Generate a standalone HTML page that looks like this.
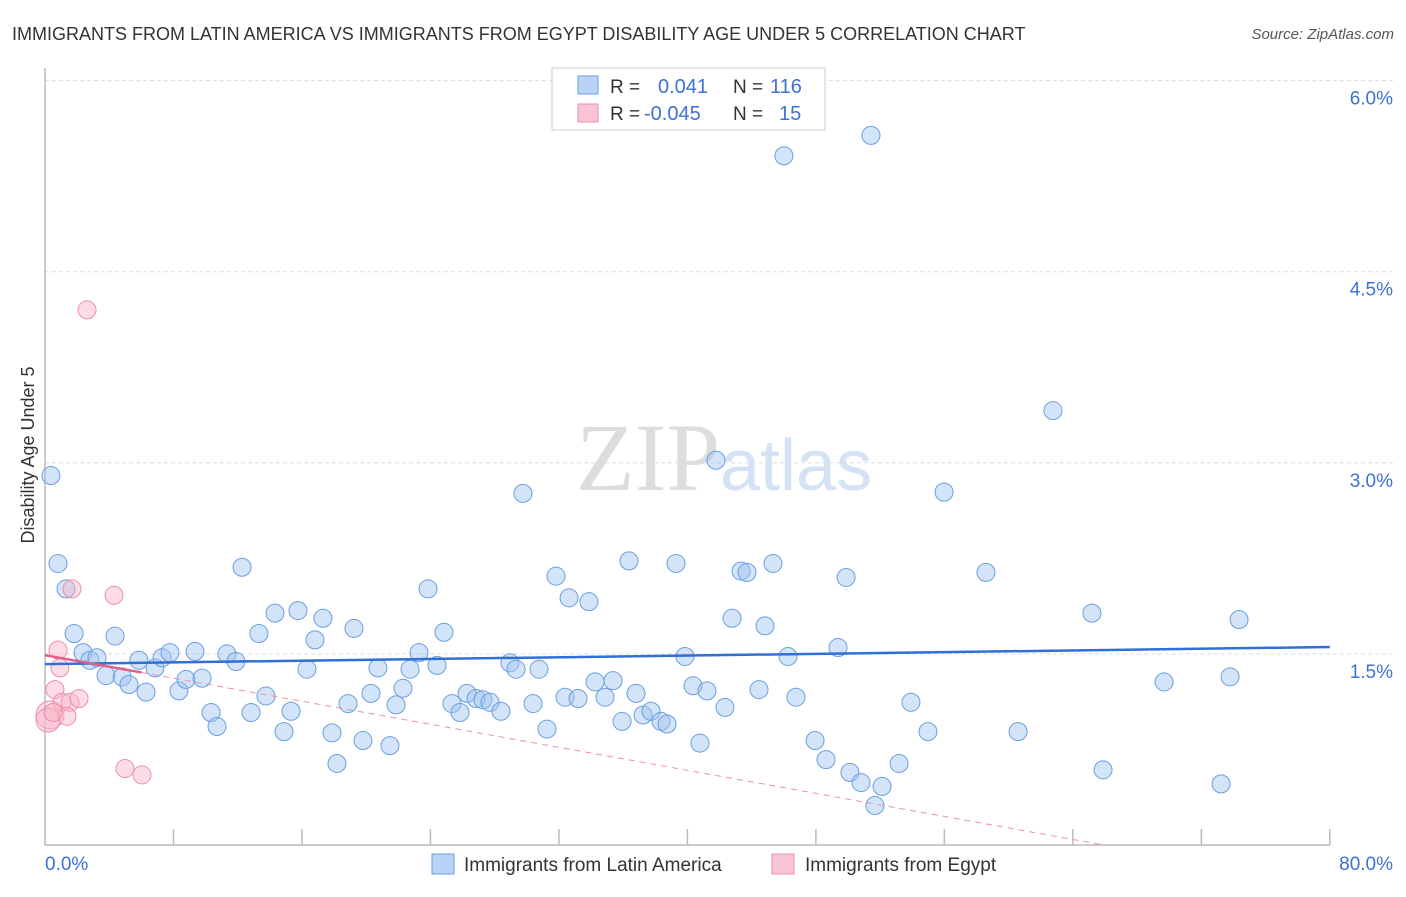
<!DOCTYPE html>
<html><head><meta charset="utf-8"><style>
body{margin:0;background:#fff;font-family:"Liberation Sans",sans-serif}
</style></head><body>
<svg width="1406" height="892" xmlns="http://www.w3.org/2000/svg" style="font-family:'Liberation Sans',sans-serif">
<text x="12" y="40" font-size="18" fill="#333">IMMIGRANTS FROM LATIN AMERICA VS IMMIGRANTS FROM EGYPT DISABILITY AGE UNDER 5 CORRELATION CHART</text>
<text x="1394" y="39" font-size="15" fill="#555" text-anchor="end" font-style="italic">Source: ZipAtlas.com</text>
<g id="grid"></g>
<text x="720" y="490" font-size="96" fill="#ddd" text-anchor="end" font-family="Liberation Serif">ZIP</text>
<text x="720" y="490" font-size="72" fill="#d3e2f4">atlas</text>
<g id="axes"></g>
<text transform="translate(34,455) rotate(-90)" font-size="18" fill="#333" text-anchor="middle">Disability Age Under 5</text>
<g id="pts"></g>
<g id="trend"></g>
<g>
<rect x="552" y="68" width="273" height="62" fill="#fff" stroke="#ccc"/>
<rect x="578" y="76" width="20" height="18" fill="#b8d3f5" stroke="#6a9fe0"/>
<rect x="578" y="104" width="20" height="18" fill="#f9c4d3" stroke="#ec8fab"/>
<text x="610" y="93" font-size="19" fill="#333">R = </text><text x="658" y="93" font-size="20" fill="#3d72d0">0.041</text>
<text x="733" y="93" font-size="19" fill="#333">N = </text><text x="770" y="93" font-size="20" fill="#3d72d0">116</text>
<text x="610" y="120" font-size="19" fill="#333">R = </text><text x="644" y="120" font-size="20" fill="#3d72d0">-0.045</text>
<text x="733" y="120" font-size="19" fill="#333">N = </text><text x="779" y="120" font-size="20" fill="#3d72d0">15</text>
</g>
<g>
<rect x="432" y="854" width="22" height="20" fill="#b8d3f5" stroke="#6a9fe0"/>
<text x="464" y="871" font-size="19" fill="#333">Immigrants from Latin America</text>
<rect x="772" y="854" width="22" height="20" fill="#f9c4d3" stroke="#ec8fab"/>
<text x="805" y="871" font-size="19" fill="#333">Immigrants from Egypt</text>
</g>
</svg>
<script>
const blueX=[0.37,0.81,1.31,1.81,2.37,2.80,3.24,3.80,4.36,4.80,5.23,5.85,6.29,6.85,7.29,7.78,8.34,8.78,9.34,9.78,10.34,10.71,11.33,11.89,12.27,12.83,13.32,13.76,14.32,14.88,15.32,15.75,16.31,16.81,17.31,17.87,18.18,18.87,19.24,19.80,20.30,20.73,21.48,21.86,22.29,22.73,23.29,23.85,24.41,24.84,25.34,25.84,26.28,26.84,27.27,27.71,28.39,28.95,29.33,29.76,30.39,30.76,31.26,31.82,32.38,32.63,33.19,33.87,34.25,34.87,35.37,35.93,36.36,36.80,37.24,37.73,38.36,38.73,39.29,39.85,40.35,40.78,41.22,41.78,42.34,42.78,43.34,43.71,44.46,44.83,45.33,46.01,46.26,46.76,47.95,48.63,49.38,49.88,50.12,50.81,51.43,51.68,52.12,53.18,53.92,54.98,55.98,58.59,60.59,62.76,65.19,65.88,69.68,73.23,73.79,74.35];
const blueY=[2.90,2.21,2.01,1.66,1.51,1.45,1.47,1.33,1.64,1.32,1.26,1.45,1.20,1.39,1.47,1.51,1.21,1.30,1.52,1.31,1.04,0.93,1.50,1.44,2.18,1.04,1.66,1.17,1.82,0.89,1.05,1.84,1.38,1.61,1.78,0.88,0.64,1.11,1.70,0.82,1.19,1.39,0.78,1.10,1.23,1.38,1.51,2.01,1.41,1.67,1.11,1.04,1.19,1.15,1.14,1.12,1.05,1.43,1.38,2.76,1.11,1.38,0.91,2.11,1.16,1.94,1.15,1.91,1.28,1.16,1.29,0.97,2.23,1.19,1.02,1.05,0.97,0.95,2.21,1.48,1.25,0.80,1.21,3.02,1.08,1.78,2.15,2.14,1.22,1.72,2.21,5.41,1.48,1.16,0.82,0.67,1.55,2.10,0.57,0.49,5.57,0.31,0.46,0.64,1.12,0.89,2.77,2.14,0.89,3.41,1.82,0.59,1.28,0.48,1.32,1.77];
const pinkX=[2.62,0.81,0.93,0.62,0.31,1.06,1.56,1.37,2.12,1.68,4.30,4.98,6.04,0.19,0.50];
const pinkY=[4.20,1.53,1.39,1.22,1.02,1.12,1.12,1.01,1.15,2.01,1.96,0.60,0.55,0.98,1.04];
const pinkR=[9,9,9,9,14,9,9,9,9,9,9,9,9,12,9];
const yTicks=[1.5,3.0,4.5,6.0];
const yTickLabels=["1.5%","3.0%","4.5%","6.0%"];
const xTicks=[0,8,16,24,32,40,48,56,64,72,80];
const blueTrend=[1.42,1.554];
const pinkTrend=[1.49,-0.0226];
const X=v=>45+v*16.06, Y=v=>845-v*127.4;
const NS="http://www.w3.org/2000/svg";
function mk(t,a,p){const e=document.createElementNS(NS,t);for(const k in a)e.setAttribute(k,a[k]);p.appendChild(e);return e;}
const grid=document.getElementById('grid'),axes=document.getElementById('axes'),pts=document.getElementById('pts'),tr=document.getElementById('trend');
yTicks.forEach((v,i)=>{
 const l=mk('line',{x1:45,x2:1393,y1:Y(v),y2:Y(v),stroke:'#ddd','stroke-dasharray':'4,3'},grid);
 
 
 const t=mk('text',{x:1393,y:Y(v)+24,'font-size':19,fill:'#3d72d0','text-anchor':'end'},grid);
 t.textContent=yTickLabels[i];
 
 
});
mk('line',{x1:45,x2:45,y1:68,y2:845,stroke:'#bbb','stroke-width':1.5},axes);
mk('line',{x1:45,x2:1330,y1:845,y2:845,stroke:'#bbb','stroke-width':1.5},axes);
xTicks.slice(1).forEach(v=>{const l=mk('line',{x1:X(v),x2:X(v),y1:829,y2:845,stroke:'#bbb','stroke-width':1.5},axes);
 
 });
let t0=mk('text',{x:45,y:870,'font-size':19,fill:'#3d72d0'},axes);t0.textContent='0.0%';

let t1=mk('text',{x:1393,y:870,'font-size':19,fill:'#3d72d0','text-anchor':'end'},axes);t1.textContent='80.0%';

blueX.forEach((x,i)=>{const c=mk('circle',{cx:X(x),cy:Y(blueY[i]),r:9,fill:'rgba(160,196,240,0.45)',stroke:'#6a9fe0','stroke-width':1},pts);
 
 });
pinkX.forEach((x,i)=>{const c=mk('circle',{cx:X(x),cy:Y(pinkY[i]),r:pinkR[i],fill:'rgba(248,180,200,0.45)',stroke:'#ec8fab','stroke-width':1},pts);
 
 });
let b=mk('line',{x1:X(0),y1:Y(blueTrend[0]),x2:X(80),y2:Y(blueTrend[1]),stroke:'#2f6fd6','stroke-width':2.5},tr);


const pz=-pinkTrend[0]/pinkTrend[1];
let pd=mk('line',{x1:X(6),y1:Y(pinkTrend[0]+pinkTrend[1]*6),x2:X(pz),y2:Y(0),stroke:'#ec8fab','stroke-width':1,'stroke-dasharray':'6,5'},tr);


let ps=mk('line',{x1:X(0),y1:Y(pinkTrend[0]),x2:X(6),y2:Y(pinkTrend[0]+pinkTrend[1]*6),stroke:'#e0608a','stroke-width':2.5},tr);


</script>
</body></html>
